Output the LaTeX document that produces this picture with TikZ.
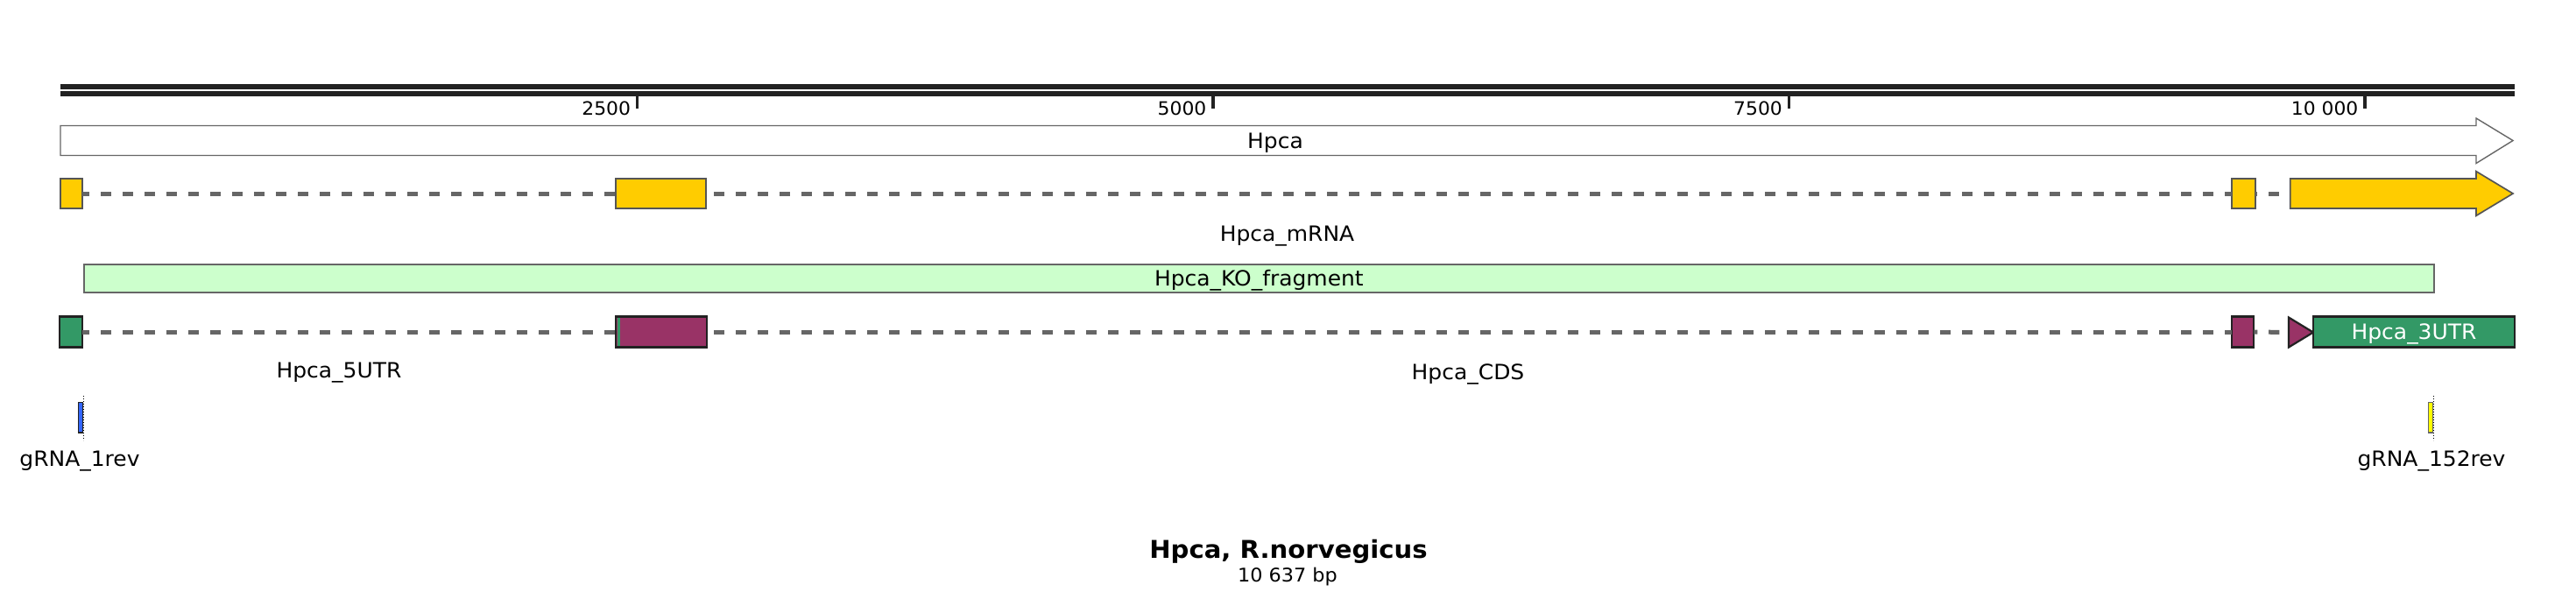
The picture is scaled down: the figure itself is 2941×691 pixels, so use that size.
\documentclass[tikz,border=0pt]{standalone}
\usepackage{fontspec}
\setmainfont{DejaVu Sans}[FakeStretch=1.04]
\definecolor{exony}{HTML}{FFCC00}
\definecolor{cdsm}{HTML}{993366}
\definecolor{utrg}{HTML}{339966}
\definecolor{kog}{HTML}{CCFFCC}
\definecolor{dashg}{HTML}{666666}
\definecolor{darkb}{HTML}{222222}
\definecolor{midg}{HTML}{555555}
\definecolor{grnab}{HTML}{3366FF}
\definecolor{grnay}{HTML}{FFFF00}
\begin{document}
\begin{tikzpicture}[x=1pt,y=-1pt,
  lab/.style={font=\fontsize{24pt}{28pt}\selectfont, inner sep=0pt, anchor=base},
  ticklab/.style={font=\fontsize{21pt}{26pt}\selectfont, inner sep=0pt, anchor=base east},
  rulerline/.style={draw=darkb, line width=6pt},
  tickmark/.style={draw=darkb, line width=3.5pt},
  genearrow/.style={draw=dashg, fill=white, line width=1.4pt},
  exY/.style={draw=midg, fill=exony, line width=1.7pt, inner sep=0pt, outer sep=0pt},
  exM/.style={draw=darkb, fill=cdsm, line width=2.2pt, inner sep=0pt, outer sep=0pt},
  exG/.style={draw=darkb, fill=utrg, line width=2.2pt, inner sep=0pt, outer sep=0pt},
  kobox/.style={draw=dashg, fill=kog, line width=1.7pt, inner sep=0pt,
    font=\fontsize{24pt}{28pt}\selectfont, text height=17pt, text depth=1pt},
  intron/.style={draw=dashg, line width=5pt, dash pattern=on 12.3pt off 12.7pt},
  grnaline/.style={draw=black, line width=1.6pt, dash pattern=on 1.6pt off 1.4pt}
]
\useasboundingbox (0,0) rectangle (2941,691);

% ruler
\coordinate (rs) at (69,99);
\coordinate (re) at (2871,99);
\draw[rulerline] (rs) -- (re);
\draw[rulerline] ([yshift=-8pt]rs) -- ([yshift=-8pt]re);
\foreach \x/\lab in {727.7/2500, 1385/5000, 2042.5/7500, 2700/{10 000}}{
  \draw[tickmark] (\x,110) -- (\x,124);
  \node[ticklab] at (\x-7.5,131) {\lab};
}

% gene arrow
\draw[genearrow] (69,143.5) -- (2827,143.5) -- (2827,135) -- (2869,160.5)
  -- (2827,186.5) -- (2827,177.5) -- (69,177.5) -- cycle;
\node[lab] (hpca) at (1456,169.3) {Hpca};

% mRNA row
\node[exY, minimum width=25pt, minimum height=34pt] (m1) at (81.5,221) {};
\node[exY, minimum width=103pt, minimum height=34pt] (m2) at (754.5,221) {};
\node[exY, minimum width=27.3pt, minimum height=34pt] (m3) at (2561.35,221) {};
\draw[exY] (2614.7,204) -- (2827,204) -- (2827,195.7) -- (2869,221)
  -- (2827,246.3) -- (2827,238) -- (2614.7,238) -- cycle;
\coordinate (m4) at (2613.8,221);
\draw[intron, dash phase=4pt] (m1.east) -- (m2.west);
\draw[intron, dash phase=16pt] (m2.east) -- (m3.west);
\draw[intron, dash phase=10pt] (m3.east) -- (m4);
\node[lab] (mrnalab) at (1469.5,275.5) {Hpca\_mRNA};

% KO fragment
\node[kobox, minimum width=2683.3pt, minimum height=32.6pt] (ko) at (1437.35,318) {Hpca\_KO\_fragment};

% CDS / UTR row
\node[exG, minimum width=26pt, minimum height=35pt] (c1) at (81.3,379) {};
\node[exM, minimum width=103.4pt, minimum height=35pt] (c2) at (755,379) {};
\fill[utrg] (705.2,362.6) rectangle (708,395.4);
\node[exM, minimum width=25.6pt, minimum height=35pt] (c3) at (2560.5,379) {};
\draw[exM] (2613,362.5) -- (2641,379.5) -- (2613,396.5) -- cycle;
\coordinate (tri) at (2612,379.5);
\node[exG, minimum width=230pt, minimum height=35pt, text=white,
  font=\fontsize{24pt}{28pt}\selectfont, text height=17pt, text depth=1pt] (c4) at (2756,379) {Hpca\_3UTR};
\draw[intron, dash phase=4.3pt] (c1.east) -- (c2.west);
\draw[intron, dash phase=16.7pt] (c2.east) -- (c3.west);
\draw[intron, dash phase=8.3pt] (c3.east) -- (tri);
\node[lab] (utr5) at (387,431.7) {Hpca\_5UTR};
\node[lab] (cds) at (1676,433.3) {Hpca\_CDS};

% gRNAs
\draw[draw=darkb, fill=grnab, line width=1.5pt] (89.3,459.3) rectangle (94.3,494);
\draw[grnaline] (95.5,451.7) -- (95.5,502.7);
\node[lab] (g1) at (91,532.3) {gRNA\_1rev};
\draw[draw=dashg, fill=grnay, line width=1.5pt] (2772.3,459.3) rectangle (2777.3,494);
\draw[grnaline] (2778.5,451.7) -- (2778.5,502.7);
\node[lab] (g2) at (2776,532.3) {gRNA\_152rev};

% title
\node[inner sep=0pt, anchor=base, font=\fontsize{28pt}{32pt}\selectfont\bfseries] (title) at (1471,637.7) {Hpca, R.norvegicus};
\node[inner sep=0pt, anchor=base, font=\fontsize{21.5pt}{26pt}\selectfont] (sub) at (1470,664) {10 637 bp};
\end{tikzpicture}
\end{document}
